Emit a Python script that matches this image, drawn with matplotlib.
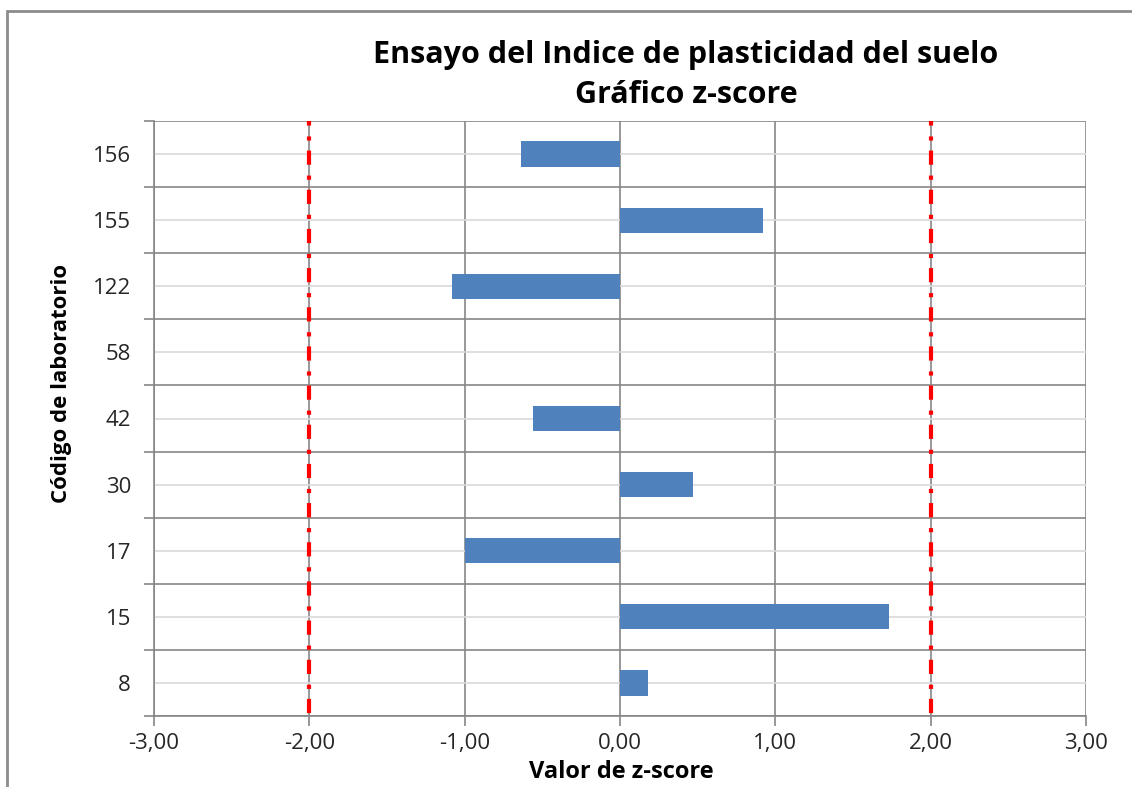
import matplotlib
matplotlib.use("Agg")
import matplotlib.pyplot as plt
from matplotlib.patches import Rectangle
import numpy as np

labs = ["8", "15", "17", "30", "42", "58", "122", "155", "156"]
zscores = [0.18, 1.73, -1.00, 0.47, -0.56, 0.0, -1.08, 0.92, -0.64]
limits = [-2.0, 2.0]
xticks = [-3, -2, -1, 0, 1, 2, 3]
xticklabels = ["-3,00", "-2,00", "-1,00", "0,00", "1,00", "2,00", "3,00"]

plt.rcParams['font.family'] = ['Open Sans', 'DejaVu Sans']

W, H = 1132, 787
fig = plt.figure(figsize=(W/100, H/100), dpi=100)
ax = fig.add_axes([154/W, 1-716/H, (1086-154)/W, (716-121)/H])

y = np.arange(len(labs))
ax.barh(y, zscores, height=0.38, color="#4F81BD", zorder=3)

for lv in limits:
    ax.axvline(lv, color="#FF0000", lw=3, linestyle=(8.7, (3.4, 2.4, 1.0, 2.6)), zorder=4)

ax.set_xlim(-3, 3)
ax.set_ylim(-0.5, len(labs)-0.5)
ax.set_xticks(xticks)
ax.set_xticklabels(xticklabels, fontsize=16, color="#262626")
ax.set_yticks(np.arange(-0.5, len(labs)), labels=[""]*(len(labs)+1))
ax.set_yticks(y, labels=labs, minor=True)
ax.tick_params(axis='y', which='minor', length=0, labelsize=16, labelcolor="#262626", pad=16.5)
ax.tick_params(axis='y', which='major', length=7, color="#868686", width=1.2)
ax.tick_params(axis='x', which='major', length=7, color="#868686", width=1.2, pad=5)

ax.grid(True, axis='y', which='major', color="#868686", lw=1.2, zorder=1)
ax.grid(True, axis='y', which='minor', color="#D9D9D9", lw=1.2, zorder=1)
ax.grid(True, axis='x', which='major', color="#868686", lw=1.2, zorder=1)

for s in ['top', 'right']:
    ax.spines[s].set_visible(False)
for s in ['left', 'bottom']:
    ax.spines[s].set_color("#868686")
    ax.spines[s].set_linewidth(1.2)

fig.text(686/W, 1-55/H, "Ensayo del Indice de plasticidad del suelo", ha='center', va='center',
         fontsize=22, fontweight='bold')
fig.text(686/W, 1-95/H, "Gráfico z-score", ha='center', va='center',
         fontsize=22, fontweight='bold')
fig.text(621/W, 1-772/H, "Valor de z-score", ha='center', va='center',
         fontsize=17, fontweight='bold')
fig.text(62/W, 1-383/H, "Código de laboratorio", ha='center', va='center',
         fontsize=16, fontweight='bold', rotation=90)

fig.patches.append(Rectangle((7/W, -0.1), 1.2, 1+0.1-11/H, transform=fig.transFigure,
                             fill=False, edgecolor="#8C8C8C", lw=2))

fig.savefig("out.png", dpi=100)
